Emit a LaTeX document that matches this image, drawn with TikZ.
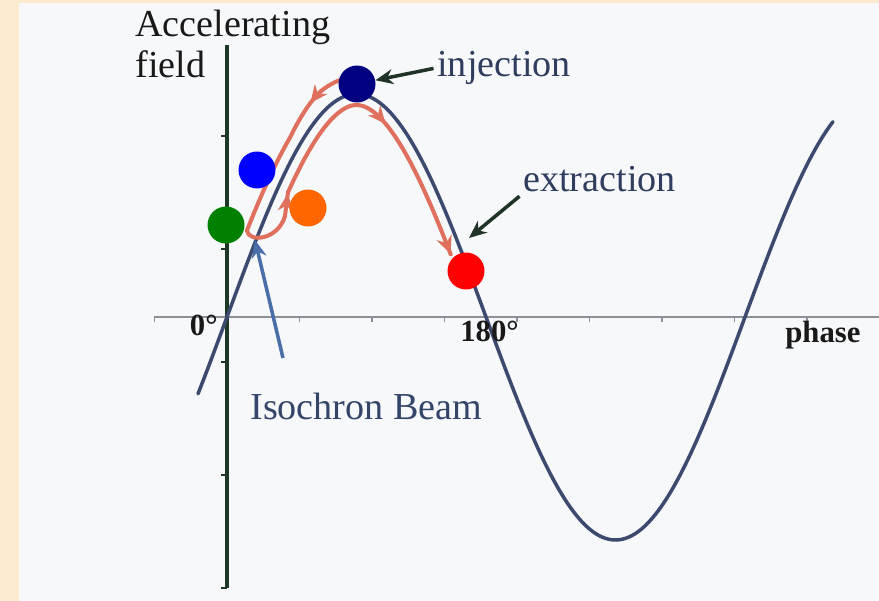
\documentclass[tikz,border=0pt]{standalone}
\usepackage{fontspec}
\setmainfont{Liberation Serif}
\usetikzlibrary{arrows.meta,decorations.markings}

\definecolor{peach}{HTML}{FCEBCF}
\definecolor{panel}{HTML}{F6F8FA}
\definecolor{wavecol}{HTML}{3B4A6E}
\definecolor{axiscol}{HTML}{1E3828}
\definecolor{axisgray}{HTML}{8C9099}
\definecolor{beamred}{HTML}{E0705E}
\definecolor{labelcol}{HTML}{2F3E5E}
\definecolor{isocol}{HTML}{4A6EA8}
\definecolor{pointercol}{HTML}{1F3326}

\begin{document}
\begin{tikzpicture}[x=0.02cm, y=-0.02cm,
	big/.style={font=\fontsize{21.7}{23.8}\selectfont},
	degtag/.style={font=\fontsize{17.5}{20}\selectfont\bfseries, text=black!90, inner sep=0pt},
	bunch/.style={circle, minimum size=0.74cm, inner sep=0pt},
	beamtip/.tip={Stealth[length=10pt, width=9pt]},
	beam/.style={beamred, line width=2.3pt, line cap=round, line join=round, postaction={decorate},
		decoration={markings,
			mark=at position 0.085 with {\arrow{beamtip}},
			mark=at position 0.47 with {\arrow{beamtip}},
			mark=at position 0.74 with {\arrow{beamtip}},
			mark=at position 0.999 with {\arrow{beamtip}}}},
	pointer/.style={pointercol, line width=2pt, -{Stealth[length=10pt, width=8.5pt]}},
	declare function={
		fy(\p)=317-223*sin((\p-227)*0.69498);
		fs(\p)=-2.705*cos((\p-227)*0.69498);
		nn(\p)=sqrt(1+fs(\p)^2);
		dout(\p)=12+0.16*min(max(\p-300,0),30);
		ox(\p)=\p+dout(\p)*fs(\p)/nn(\p);
		oy(\p)=fy(\p)-dout(\p)/nn(\p);
		ix(\p)=\p-11*fs(\p)/nn(\p);
		iy(\p)=fy(\p)+11/nn(\p);}]
	% background
	\fill[peach] (0,0) rectangle (879,601);
	\fill[panel] (19,3) rectangle (879,601);
	\useasboundingbox (0,0) rectangle (879,601);
	% axes
	\draw[axisgray, line width=0.9pt] (154,317) -- (879,317);
	\foreach \i in {0,...,10} \draw[axisgray, line width=0.9pt] ({154.5+72.5*\i},317) -- ++(0,5);
	\draw[axiscol, line width=2pt] (227,45) -- (227,588);
	\foreach \ty in {136,249,362,475,588} \draw[axiscol, line width=1.4pt] (227,\ty) -- ++(-6,0);
	% rf wave
	\draw[wavecol, line width=2pt, line cap=round] plot[domain=198:833, samples=160, smooth] (\x,{fy(\x)});
	% beam path
	\draw[beam] plot[domain=352:258, samples=32] ({ox(\x)},{oy(\x)})
		.. controls (249,243) and (278,240) .. (285,216)
		-- plot[domain=278:461, samples=46] ({ix(\x)},{iy(\x)});
	% bunches
	\node[bunch, fill={rgb,255:red,0;green,0;blue,128}] (navy) at (357,84) {};
	\node[bunch, fill={rgb,255:red,0;green,0;blue,255}] (blue) at (257,170) {};
	\node[bunch, fill={rgb,255:red,0;green,128;blue,0}] (green) at (226,225) {};
	\node[bunch, fill={rgb,255:red,255;green,102;blue,0}] (orange) at (308,208) {};
	\node[bunch, fill={rgb,255:red,255;green,0;blue,0}] (red) at (466,271) {};
	% labels
	\node[big, anchor=base west, align=left, inner sep=0pt, text=black!90] (field) at (135,78) {Accelerating\\field};
	\node[big, anchor=base west, inner sep=2pt, text=labelcol] (inj) at (433.5,77) {injection};
	\node[big, anchor=base west, inner sep=2pt, text=labelcol] (extr) at (519.5,192) {extraction};
	\node[big, anchor=base west, inner sep=0pt, text=labelcol!85!isocol] (iso) at (250,419) {Isochron Beam};
	\node[degtag, anchor=base east] (zero) at (218,336) {0°};
	\node[degtag, anchor=base west] (half) at (460,341) {180°};
	\node[degtag, anchor=base west] (phase) at (785,342) {phase};
	% pointers
	\coordinate (exttip) at (469,238);
	\coordinate (isotail) at (283,358);
	\coordinate (isotip) at (255,240);
	\draw[pointer] (inj.west) -- (navy);
	\draw[pointer] (extr.south west) -- (exttip);
	\draw[isocol, line width=2pt, -{Stealth[length=10pt, width=8.5pt]}] (isotail) -- (isotip);
\end{tikzpicture}
\end{document}
